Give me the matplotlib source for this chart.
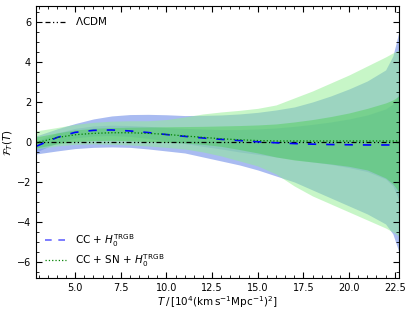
import matplotlib.pyplot as plt
from matplotlib.lines import Line2D
from matplotlib.ticker import MultipleLocator

# grid in T (10^4 (km/s/Mpc)^2)
T = [2.86, 4, 5, 6, 7, 8, 9, 10, 11, 12, 13, 14, 15, 16, 17, 18, 19, 20, 21, 22, 22.4, 22.73]

# CC + H0^TRGB
cc_mean = [-0.22, 0.22, 0.48, 0.58, 0.6, 0.55, 0.47, 0.37, 0.28, 0.2, 0.13, 0.07, 0.01, -0.04,
           -0.08, -0.11, -0.13, -0.14, -0.15, -0.15, -0.15, -0.15]
cc_up2 = [0.3, 0.65, 0.92, 1.15, 1.3, 1.37, 1.38, 1.36, 1.32, 1.33, 1.35, 1.4, 1.48, 1.6,
          1.75, 2.0, 2.3, 2.65, 3.05, 3.6, 4.3, 5.5]
cc_lo2 = [-0.6, -0.45, -0.33, -0.27, -0.25, -0.27, -0.35, -0.45, -0.55, -0.75, -0.95, -1.15, -1.4, -1.7,
          -2.0, -2.4, -2.8, -3.2, -3.6, -4.1, -4.6, -5.5]
cc_up1 = [0.05, 0.45, 0.68, 0.8, 0.84, 0.82, 0.78, 0.72, 0.68, 0.65, 0.62, 0.62, 0.65, 0.7,
          0.78, 0.88, 1.0, 1.15, 1.35, 1.65, 1.9, 2.4]
cc_lo1 = [-0.5, -0.05, 0.2, 0.3, 0.32, 0.28, 0.18, 0.05, -0.08, -0.22, -0.35, -0.5, -0.62, -0.75,
          -0.88, -1.0, -1.12, -1.28, -1.48, -1.85, -2.2, -2.9]

# CC + SN + H0^TRGB
sn_mean = [-0.05, 0.22, 0.36, 0.43, 0.46, 0.46, 0.43, 0.38, 0.3, 0.23, 0.16, 0.11, 0.07, 0.05,
           0.05, 0.05, 0.05, 0.05, 0.05, 0.05, 0.05, 0.05]
sn_up2 = [0.55, 0.72, 0.88, 0.98, 1.04, 1.06, 1.06, 1.12, 1.25, 1.4, 1.5, 1.58, 1.68, 1.85,
          2.2, 2.55, 2.95, 3.35, 3.8, 4.25, 4.45, 4.6]
sn_lo2 = [-0.35, -0.2, -0.12, -0.1, -0.12, -0.15, -0.2, -0.27, -0.35, -0.5, -0.7, -0.95, -1.2, -1.6,
          -2.2, -2.7, -3.1, -3.5, -3.9, -4.3, -4.5, -4.7]
sn_up1 = [0.25, 0.45, 0.6, 0.68, 0.72, 0.74, 0.75, 0.76, 0.77, 0.78, 0.8, 0.82, 0.85, 0.9,
          1.0, 1.12, 1.27, 1.45, 1.68, 1.95, 2.1, 2.3]
sn_lo1 = [-0.3, -0.1, 0.02, 0.07, 0.08, 0.06, 0.02, -0.02, -0.05, -0.12, -0.22, -0.38, -0.55, -0.75,
          -0.9, -1.0, -1.1, -1.22, -1.4, -1.8, -2.1, -2.5]

lcdm = [0.0] * len(T)

fig = plt.figure(figsize=(4.05, 3.12), dpi=100)
ax = fig.add_axes([0.089, 0.109, 0.896, 0.872])

ax.fill_between(T, cc_lo2, cc_up2, color='royalblue', alpha=0.45, lw=0)
ax.fill_between(T, cc_lo1, cc_up1, color='royalblue', alpha=0.3, lw=0)
ax.fill_between(T, sn_lo2, sn_up2, color='lightgreen', alpha=0.5, lw=0)
ax.fill_between(T, sn_lo1, sn_up1, color='limegreen', alpha=0.35, lw=0)

l0, = ax.plot(T, lcdm, color='k', lw=0.9, ls=(0, (4, 2, 1, 2, 1, 2)))
l1, = ax.plot(T, cc_mean, color='blue', lw=1.2, ls=(0, (5, 6)))
l2, = ax.plot(T, sn_mean, color='green', lw=0.9, ls=':')

ax.set_xlim(2.86, 22.73)
ax.set_ylim(-6.8, 6.8)
ax.xaxis.set_major_locator(MultipleLocator(2.5))
ax.xaxis.set_minor_locator(MultipleLocator(0.5))
ax.yaxis.set_major_locator(MultipleLocator(2))
ax.yaxis.set_minor_locator(MultipleLocator(0.5))
ax.tick_params(which='both', direction='in', top=True, right=True, labelsize=7)
ax.tick_params(which='major', length=4)
ax.tick_params(which='minor', length=2)

ax.set_xlabel(r'$T\,/\,[10^4(\mathrm{km\,s^{-1}Mpc^{-1}})^2]$', fontsize=7.5, labelpad=1)
ax.set_ylabel(r'$\mathcal{F}_T(T)$', fontsize=7.5, labelpad=1)

leg1 = ax.legend([l0], [r'$\Lambda$CDM'], loc='upper left', frameon=False, fontsize=7.5,
                 handlelength=2.0)
ax.add_artist(leg1)
h1 = Line2D([], [], color='blue', alpha=0.6, lw=1.2, ls=(0, (4, 4)))
h2 = Line2D([], [], color='green', lw=0.9, ls=':')
ax.legend([h1, h2], [r'CC + $H_0^{\rm TRGB}$', r'CC + SN + $H_0^{\rm TRGB}$'], loc='lower left',
          frameon=False, fontsize=7.5, handlelength=2.0, labelspacing=0.3)

fig.savefig('out.png', dpi=100)
